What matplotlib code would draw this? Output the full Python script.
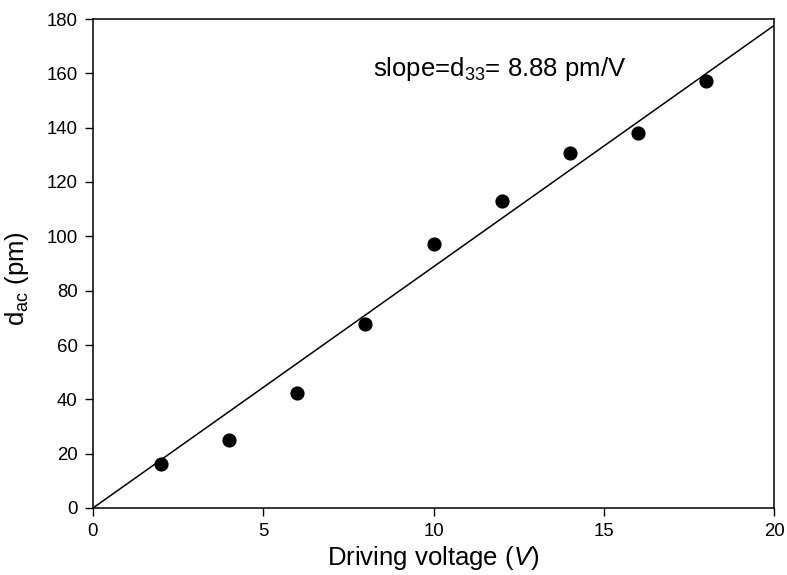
import numpy as np
import matplotlib.pyplot as plt

# ------ data ------ #
voltage = [2, 4, 6, 8, 10, 12, 14, 16, 18]
d_ac = [16.3, 24.9, 42.4, 67.7, 97.0, 113.1, 130.8, 137.9, 157.1]
slope = 8.88   # d33, pm/V

plt.rcParams['font.family'] = ['Liberation Sans', 'DejaVu Sans']
plt.rcParams['mathtext.fontset'] = 'custom'
plt.rcParams['mathtext.rm'] = 'Liberation Sans'
plt.rcParams['mathtext.it'] = 'Liberation Sans:italic'

fig = plt.figure(figsize=(7.87, 5.75), dpi=100)
ax = fig.add_axes([93 / 787, 1 - 508 / 575, 681 / 787, 489 / 575])

# fit line through origin
fit_x = np.array([0, 20])
ax.plot(fit_x, slope * fit_x, color='black', lw=1.1)
ax.plot(voltage, d_ac, 'o', color='black', markersize=9.2, linestyle='none')

ax.text(8.22, 159, r'slope=d$_{33}$= %.2f pm/V' % slope, fontsize=18.5, va='baseline')

ax.set_xlim(0, 20)
ax.set_ylim(0, 180)
ax.set_xticks([0, 5, 10, 15, 20])
ax.set_yticks(np.arange(0, 181, 20))
ax.tick_params(direction='out', length=6, width=1, labelsize=13.4,
               top=False, right=False, pad=5)
for sp in ax.spines.values():
    sp.set_linewidth(1.1)

ax.set_xlabel(r'Driving voltage ($V$)', fontsize=18.5, labelpad=3)
ax.set_ylabel(r'd$_{\mathrm{ac}}$ (pm)', fontsize=18.5)
ax.yaxis.set_label_coords(-0.091, 0.47)

plt.savefig('out.png', dpi=100)
